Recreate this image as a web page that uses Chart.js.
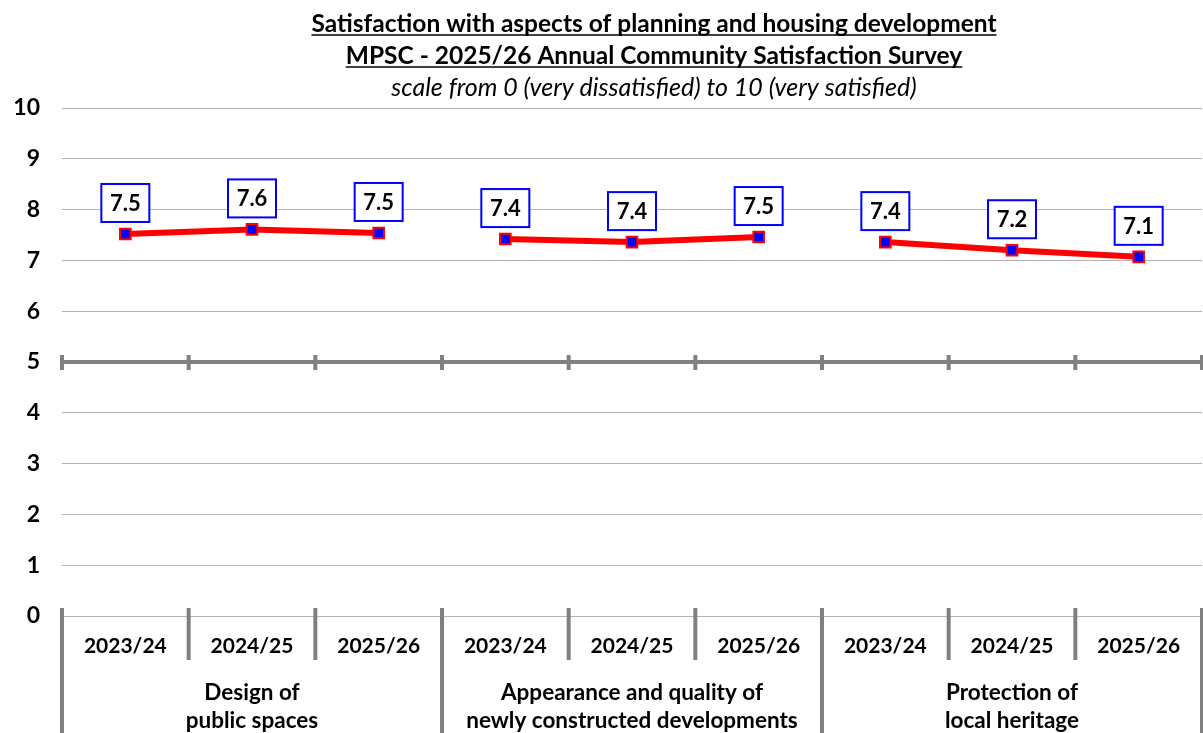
<!DOCTYPE html>
<html>
<head>
<meta charset="utf-8">
<script src="https://cdn.jsdelivr.net/npm/chart.js@4/dist/chart.umd.min.js"></script>
<style>
  html, body { margin: 0; padding: 0; background: #fff; overflow: hidden; }
  #wrap { width: 1203px; height: 733px; position: relative; }
</style>
</head>
<body>
<div id="wrap"><canvas id="c"></canvas></div>
<script>
// ---- data ----
const years = ['2023/24', '2024/25', '2025/26', '2023/24', '2024/25', '2025/26', '2023/24', '2024/25', '2025/26'];
const groups = [['Design of', 'public spaces'], ['Appearance and quality of', 'newly constructed developments'], ['Protection of', 'local heritage']];
const values = [7.52, 7.61, 7.54, 7.42, 7.36, 7.46, 7.36, 7.20, 7.07];
const yTicks = [0, 1, 2, 3, 4, 5, 6, 7, 8, 9, 10];
const titleLines = ['Satisfaction with aspects of planning and housing development', 'MPSC - 2025/26 Annual Community Satisfaction Survey'];
const subtitleText = 'scale from 0 (very dissatisfied) to 10 (very satisfied)';
const midLine = 5;
const perGroup = 3;

const FONT = 'Lato, "Open Sans", sans-serif';
const GREY = '#808080';

const headerPlugin = {
  id: 'header',
  afterDraw(chart) {
    const ctx = chart.ctx;
    const cx = 654;
    ctx.save();
    ctx.fillStyle = '#000';
    ctx.strokeStyle = '#000';
    ctx.textAlign = 'center';
    ctx.textBaseline = 'alphabetic';
    ctx.font = 'bold 24.5px ' + FONT;
    const baselines = [32, 64];
    titleLines.forEach((t, i) => {
      ctx.fillText(t, cx, baselines[i]);
      const w = ctx.measureText(t).width;
      ctx.lineWidth = 1.5;
      ctx.beginPath();
      ctx.moveTo(cx - w / 2, baselines[i] + 3);
      ctx.lineTo(cx + w / 2, baselines[i] + 3);
      ctx.stroke();
    });
    ctx.font = 'italic 25px ' + FONT;
    ctx.fillText(subtitleText, cx, 96);
    ctx.restore();
  }
};

const axisDecorPlugin = {
  id: 'axisDecor',
  beforeDatasetsDraw(chart) {
    const ctx = chart.ctx;
    const xs = chart.scales.x;
    const ys = chart.scales.y;
    const area = chart.chartArea;
    const y5 = ys.getPixelForValue(midLine);
    const y0 = ys.getPixelForValue(0);
    ctx.save();
    ctx.strokeStyle = GREY;
    ctx.lineCap = 'butt';
    ctx.lineWidth = 4;
    ctx.beginPath();
    ctx.moveTo(area.left, y5);
    ctx.lineTo(area.right, y5);
    ctx.stroke();
    for (let i = 0; i <= years.length; i++) {
      const bx = xs.getPixelForValue(i - 0.5);
      ctx.beginPath();
      ctx.moveTo(bx, y5 - 7);
      ctx.lineTo(bx, y5 + 8);
      ctx.stroke();
      const isGroup = (i % perGroup === 0);
      ctx.beginPath();
      ctx.moveTo(bx, y0 - 8);
      ctx.lineTo(bx, isGroup ? chart.height : y0 + 44);
      ctx.stroke();
    }
    ctx.restore();
  }
};

const labelBoxPlugin = {
  id: 'labelBoxes',
  afterDatasetsDraw(chart) {
    const ctx = chart.ctx;
    const meta = chart.getDatasetMeta(0);
    ctx.save();
    ctx.font = 'bold 22px ' + FONT;
    ctx.textAlign = 'center';
    ctx.textBaseline = 'alphabetic';
    meta.data.forEach((pt, i) => {
      const w = 48, h = 38;
      const bx = pt.x - w / 2;
      const by = pt.y - 12 - h;
      ctx.fillStyle = '#fff';
      ctx.fillRect(bx, by, w, h);
      ctx.strokeStyle = '#0000ff';
      ctx.lineWidth = 2;
      ctx.strokeRect(bx, by, w, h);
      ctx.fillStyle = '#000';
      ctx.fillText(values[i].toFixed(1), pt.x, by + 27);
    });
    ctx.restore();
  }
};

function noAxisPadding(scale) { scale.paddingLeft = 0; scale.paddingRight = 0; }

new Chart(document.getElementById('c'), {
  type: 'line',
  data: {
    labels: years,
    datasets: [{
      data: values,
      borderColor: '#ff0000',
      borderWidth: 6,
      backgroundColor: '#0000ff',
      segment: {
        borderColor: ctx => (ctx.p0DataIndex % perGroup === perGroup - 1) ? 'rgba(0,0,0,0)' : '#ff0000'
      },
      pointStyle: 'rect',
      pointRadius: 7.5,
      pointHoverRadius: 7.5,
      pointBackgroundColor: '#0000ff',
      pointBorderColor: '#ff0000',
      pointBorderWidth: 2,
      tension: 0,
      xAxisID: 'x',
      yAxisID: 'y'
    }]
  },
  options: {
    responsive: true,
    maintainAspectRatio: false,
    animation: false,
    layout: { autoPadding: false, padding: { top: 108, right: 1, bottom: 0, left: 0 } },
    plugins: {
      legend: { display: false },
      title: { display: false },
      tooltip: { enabled: false }
    },
    scales: {
      y: {
        min: 0,
        max: 10,
        afterBuildTicks(scale) { scale.ticks = yTicks.map(v => ({ value: v })); },
        afterFit(scale) { scale.width = 62; scale.paddingTop = 0; scale.paddingBottom = 0; },
        border: { display: false },
        grid: {
          drawTicks: false,
          color: ctx => (ctx.tick && ctx.tick.value === midLine) ? 'rgba(0,0,0,0)' : '#b3b3b3',
          lineWidth: 1
        },
        ticks: {
          padding: 22,
          color: '#000',
          font: { family: FONT, size: 23, weight: 'bold' }
        }
      },
      x: {
        type: 'category',
        offset: true,
        weight: 0,
        afterFit(scale) { scale.height = 55; noAxisPadding(scale); },
        border: { display: false },
        grid: { display: false },
        ticks: {
          padding: 10,
          autoSkip: false,
          maxRotation: 0,
          color: '#000',
          font: { family: FONT, size: 21, weight: 'bold' }
        }
      },
      xg: {
        type: 'category',
        position: 'bottom',
        labels: groups,
        offset: true,
        weight: 1,
        afterFit(scale) { scale.height = 62; noAxisPadding(scale); },
        border: { display: false },
        grid: { display: false },
        ticks: {
          padding: 0,
          autoSkip: false,
          maxRotation: 0,
          color: '#000',
          font: { family: FONT, size: 22.5, weight: 'bold', lineHeight: 28 / 22.5 }
        }
      }
    }
  },
  plugins: [axisDecorPlugin, labelBoxPlugin, headerPlugin]
});
</script>
</body>
</html>
